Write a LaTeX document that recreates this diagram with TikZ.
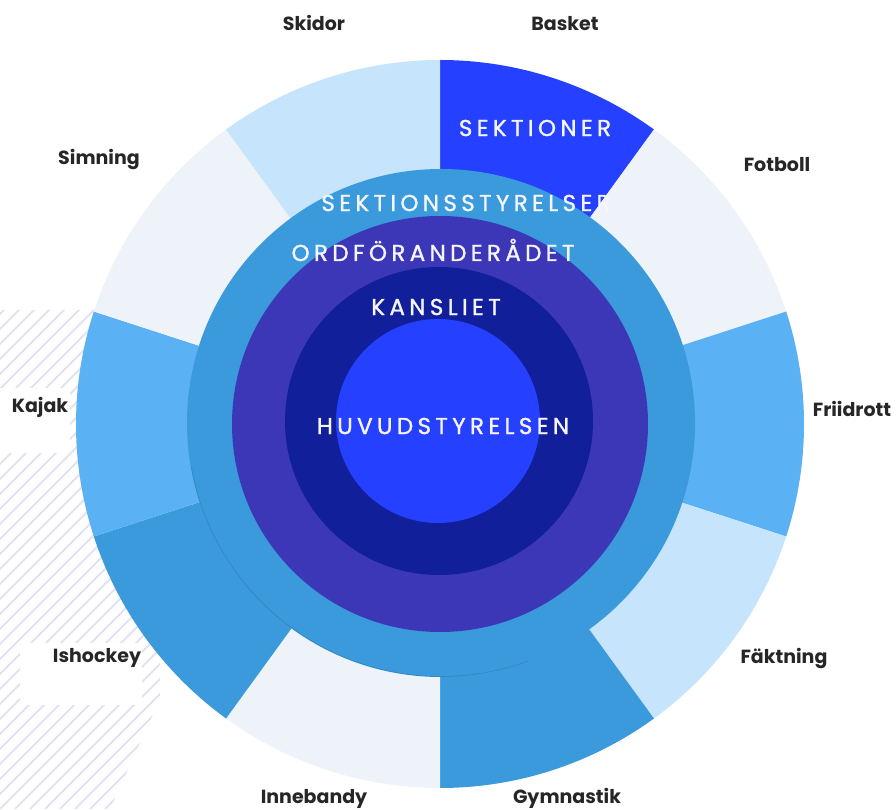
\documentclass[tikz,border=0pt]{standalone}
\usepackage{fontspec}
\setmainfont{Poppins}
\newfontfamily\ringfont[LetterSpace=19, FakeBold=1.3]{Poppins}

\definecolor{deepblue}{HTML}{2540FF}
\definecolor{navyblue}{HTML}{111F9B}
\definecolor{ringviolet}{HTML}{3C37B6}
\definecolor{skyblue}{HTML}{3A9ADB}
\definecolor{midblue}{HTML}{5AB2F4}
\definecolor{paleblue}{HTML}{C6E4FB}
\definecolor{iceblue}{HTML}{EEF3FA}
\definecolor{hatchgray}{HTML}{E2E2F0}

\tikzset{
  sport/.style={anchor=base, font=\fontsize{19}{21}\selectfont\bfseries, text=black!85, inner sep=0pt},
  level/.style={font=\ringfont\fontsize{23}{25}\selectfont, text=white!96!blue, inner sep=0pt}
}

\begin{document}
\begin{tikzpicture}[x=1pt, y=1pt]
    \useasboundingbox (0,0) rectangle (896,809);
    \coordinate (hub) at (440,385);
    % hatching lower left
    \begin{scope}
      \clip (0,0) -- (0,499) -- (160,499) -- (160,110) -- (110,0) -- cycle;
      \foreach \i in {-600,-585,...,200}
        \draw[hatchgray, line width=1.8pt] (\i,0) -- ++(600,600);
    \end{scope}
    \fill[white] (0,356) rectangle (70,421);
    \fill[white] (20,104) rectangle (142,166);
    % sections ring
    \foreach \a/\col in {54/deepblue, 18/iceblue, -18/midblue, -54/paleblue, -90/skyblue,
                         -126/iceblue, -162/skyblue, 162/midblue, 126/iceblue, 90/paleblue}
      \fill[\col] (hub) -- ++(\a:364pt) arc[start angle=\a, delta angle=36, radius=364pt] -- cycle;
    % circles
    \fill[skyblue] (441,386) circle[radius=254pt];
    \draw[black, opacity=.15, line width=.5pt] (441,386) ++(190:253.5pt) arc[start angle=190, end angle=290, radius=253.5pt];
    \fill[ringviolet] (440,385) circle[radius=208pt];
    \fill[navyblue] (439,388) circle[radius=154pt];
    \fill[deepblue] (438,388) circle[radius=102pt];
    % level texts
    \node[level] (sektioner) at (535,681) {SEKTIONER};
    \node[level] (styrelser) at (466,606) {SEKTIONSSTYRELSER};
    \node[level] (ordf) at (433,559) {ORDFÖRANDERÅDET};
    \node[level] (kansliet) at (436,502) {KANSLIET};
    \node[level] (huvud) at (443,383) {HUVUDSTYRELSEN};
    % section labels
    \node[sport] (skidor) at (314,778) {Skidor};
    \node[sport] (basket) at (565,778) {Basket};
    \node[sport] (fotboll) at (777,637) {Fotboll};
    \node[sport] (simning) at (99,644) {Simning};
    \node[sport] (kajak) at (40,396) {Kajak};
    \node[sport] (friidrott) at (852,392) {Friidrott};
    \node[sport] (ishockey) at (97,147) {Ishockey};
    \node[sport] (faktning) at (784,146) {Fäktning};
    \node[sport] (innebandy) at (314,6) {Innebandy};
    \node[sport] (gymnastik) at (567,6) {Gymnastik};
\end{tikzpicture}
\end{document}
